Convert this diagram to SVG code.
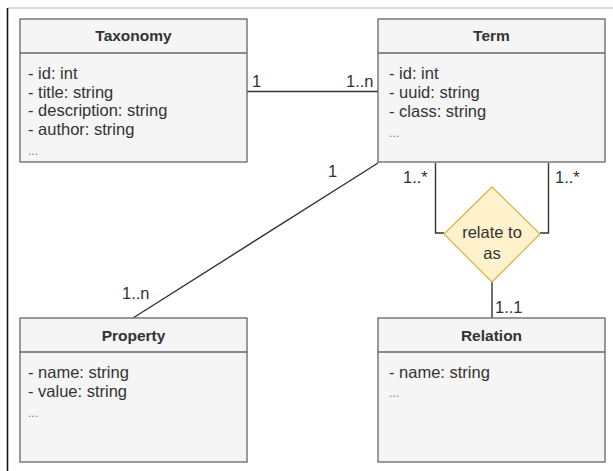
<svg xmlns="http://www.w3.org/2000/svg" width="613" height="471" viewBox="0 0 613 471">
  <style>
    text { font-family: "Liberation Sans", Arial, sans-serif; fill: #333333; }
    .box { fill: #f5f5f5; stroke: #666666; stroke-width: 1.3; }
    .sep { stroke: #666666; stroke-width: 1.3; }
    .title { font-size: 15.5px; font-weight: bold; text-anchor: middle; }
    .attr { font-size: 16.5px; }
    .dots { font-size: 12px; fill: #777777; }
    .edge { fill: none; stroke: #333333; stroke-width: 1.4; }
    .mult { font-size: 16.5px; }
  </style>
  <rect x="0" y="0" width="613" height="471" fill="#ffffff"/>
  <!-- outer frame -->
  <line x1="7.5" y1="8" x2="613" y2="8" stroke="#cccccc" stroke-width="1.3"/>
  <line x1="7.5" y1="8" x2="7.5" y2="471" stroke="#111111" stroke-width="1.6"/>

  <g id="connectors">
    <line class="edge" x1="247" y1="91.5" x2="378" y2="91.5"/>
    <line class="edge" x1="378" y1="163" x2="133" y2="318"/>
    <polyline class="edge" points="435.5,163 435.5,233 444,233"/>
    <polyline class="edge" points="548.5,163 548.5,233 540,233"/>
    <line class="edge" x1="492" y1="282" x2="492" y2="318"/>
    <text class="mult" x="252" y="87">1</text>
    <text class="mult" x="346" y="87">1..n</text>
    <text class="mult" x="328" y="177">1</text>
    <text class="mult" x="122" y="299">1..n</text>
    <text class="mult" x="403" y="183">1..*</text>
    <text class="mult" x="555" y="183">1..*</text>
    <text class="mult" x="495" y="313">1..1</text>
  </g>

  <g id="taxonomy">
    <rect class="box" x="20" y="19" width="227" height="143"/>
    <line class="sep" x1="20" y1="53" x2="247" y2="53"/>
    <text class="title" x="133.5" y="41">Taxonomy</text>
    <text class="attr" x="28" y="79">- id: int</text>
    <text class="attr" x="28" y="97.5">- title: string</text>
    <text class="attr" x="28" y="116">- description: string</text>
    <text class="attr" x="28" y="134.5">- author: string</text>
    <text class="dots" x="28" y="155">...</text>
  </g>

  <g id="term">
    <rect class="box" x="378" y="19" width="227" height="143"/>
    <line class="sep" x1="378" y1="53" x2="605" y2="53"/>
    <text class="title" x="491.5" y="41">Term</text>
    <text class="attr" x="389" y="79">- id: int</text>
    <text class="attr" x="389" y="98">- uuid: string</text>
    <text class="attr" x="389" y="117">- class: string</text>
    <text class="dots" x="389" y="137">...</text>
  </g>

  <g id="relate">
    <polygon points="492,187 540,234 492,282 444,234" fill="#fff2cc" stroke="#d6b656" stroke-width="1.3"/>
    <text class="attr" x="492" y="238" text-anchor="middle">relate to</text>
    <text class="attr" x="492" y="259" text-anchor="middle">as</text>
  </g>

  <g id="property">
    <rect class="box" x="20" y="318" width="227" height="144"/>
    <line class="sep" x1="20" y1="352" x2="247" y2="352"/>
    <text class="title" x="133.5" y="341">Property</text>
    <text class="attr" x="28" y="378">- name: string</text>
    <text class="attr" x="28" y="397">- value: string</text>
    <text class="dots" x="28" y="417">...</text>
  </g>

  <g id="relation">
    <rect class="box" x="378" y="318" width="227" height="144"/>
    <line class="sep" x1="378" y1="352" x2="605" y2="352"/>
    <text class="title" x="491.5" y="341">Relation</text>
    <text class="attr" x="389" y="378">- name: string</text>
    <text class="dots" x="389" y="397">...</text>
  </g>
</svg>
